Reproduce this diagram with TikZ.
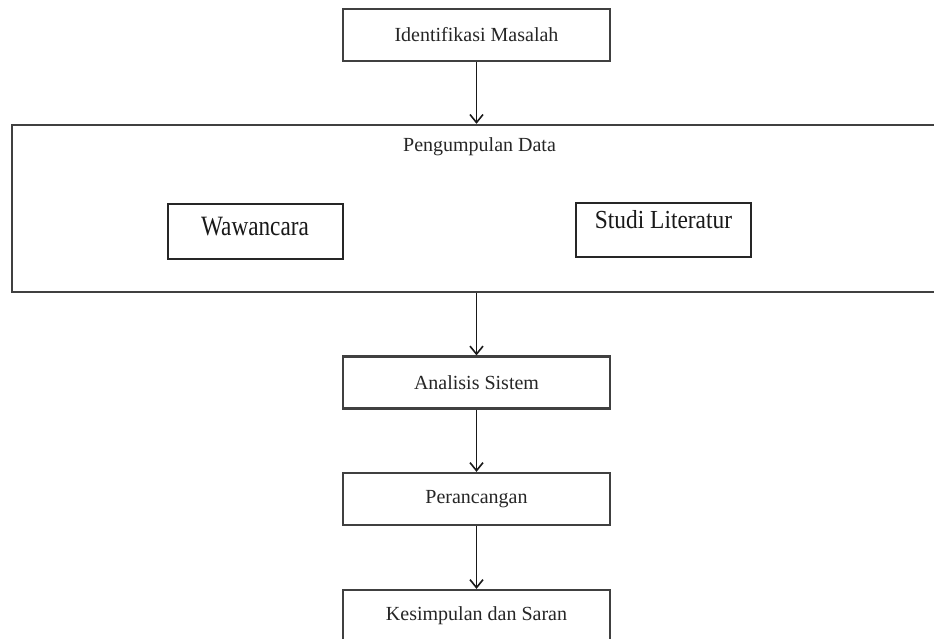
\documentclass[tikz,border=0pt]{standalone}
\usepackage{fontspec}
\setmainfont{Liberation Serif}
\usetikzlibrary{arrows.meta}
\tikzset{
  flowbox/.style={draw=black!75, line width=2.2pt, minimum width=267pt, minimum height=52pt, inner sep=0pt, text=black!85, font=\fontsize{20}{22}\selectfont},
  subbox/.style={draw=black!85, line width=2pt, minimum width=175pt, minimum height=54pt, inner sep=0pt, text=black!90},
  flowarrow/.style={draw=black!90, line width=1.7pt, -{Straight Barb[length=8pt,width=13pt,line width=1.6pt]}}
}
\begin{document}
\begin{tikzpicture}[x=1pt,y=-1pt]
\clip (0,0) rectangle (934,639);
\fill[white] (0,0) rectangle (934,639);
% main boxes
\node[flowbox] (id) at (476.5,35) {Identifikasi Masalah};
\node[draw=black!75, line width=2.4pt, minimum width=933pt, minimum height=167pt, inner sep=0pt] (pd) at (478.5,208.5) {};
\node[text=black!85, font=\fontsize{20}{22}\selectfont, anchor=base] (pdt) at (479.5,152) {Pengumpulan Data};
\node[subbox, text height=18.5pt, text depth=11.5pt] (ww) at (255,231.5) {\scalebox{0.83}[1]{\fontsize{28}{30}\selectfont Wawancara}};
\node[subbox, text height=17pt, text depth=19pt] (sl) at (663.5,230) {\scalebox{0.9}[1]{\fontsize{26}{28}\selectfont Studi Literatur}};
\node[flowbox] (an) at (476.5,382.5) {Analisis Sistem};
\node[flowbox] (pr) at (476.5,499) {Perancangan};
\node[flowbox] (ks) at (476.5,616) {Kesimpulan dan Saran};
% arrows
\draw[flowarrow] (id.south) -- (id.south |- pd.north);
\draw[flowarrow] (an.north |- pd.south) -- (an.north);
\draw[flowarrow] (an.south) -- (pr.north);
\draw[flowarrow] (pr.south) -- (ks.north);
\end{tikzpicture}
\end{document}
